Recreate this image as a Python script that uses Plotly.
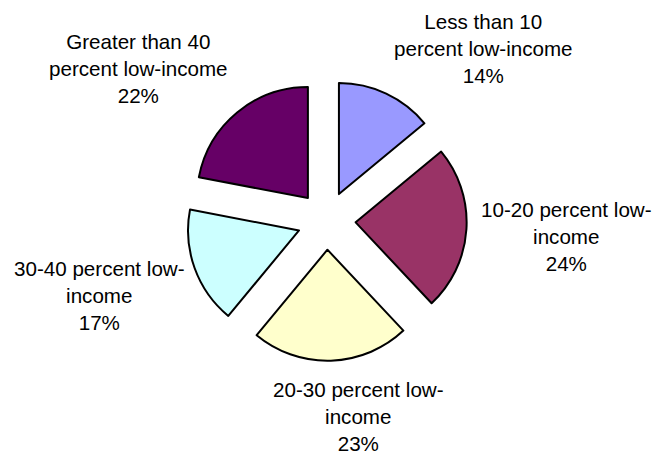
import plotly.graph_objects as go

# Share of schools by low-income enrollment band
categories = [
    "Less than 10 percent low-income",
    "10-20 percent low-income",
    "20-30 percent low-income",
    "30-40 percent low-income",
    "Greater than 40 percent low-income",
]
shares = [14, 24, 23, 17, 22]
label_lines = [
    "Less than 10<br>percent low-income",
    "10-20 percent low-<br>income",
    "20-30 percent low-<br>income",
    "30-40 percent low-<br>income",
    "Greater than 40<br>percent low-income",
]
colors = ["#9999FF", "#993366", "#FFFFCC", "#CCFFFF", "#660066"]

W, H = 658, 454

# label block centres (pixels from top-left)
label_pos = [(483, 48), (566, 237), (358, 416), (99, 295), (138, 69)]

fig = go.Figure(
    go.Pie(
        labels=categories,
        values=shares,
        sort=False,
        direction="clockwise",
        rotation=0,
        pull=[0.263] * len(shares),
        marker=dict(colors=colors, line=dict(color="black", width=2)),
        textinfo="none",
        hoverinfo="label+percent",
        showlegend=False,
        domain=dict(x=[0.2831, 0.7093], y=[0.2055, 0.8231]),
    )
)

for text, v, (px, py) in zip(label_lines, shares, label_pos):
    fig.add_annotation(
        x=px / W,
        y=1 - py / H,
        xref="paper",
        yref="paper",
        text=f"{text}<br>{v}%",
        showarrow=False,
        align="center",
        xanchor="center",
        yanchor="middle",
        font=dict(family="Liberation Sans, Arial, sans-serif", size=20.6, color="black"),
    )

fig.update_layout(
    width=W,
    height=H,
    margin=dict(l=0, r=0, t=0, b=0),
    paper_bgcolor="white",
    plot_bgcolor="white",
)

fig.write_html("out.html")
